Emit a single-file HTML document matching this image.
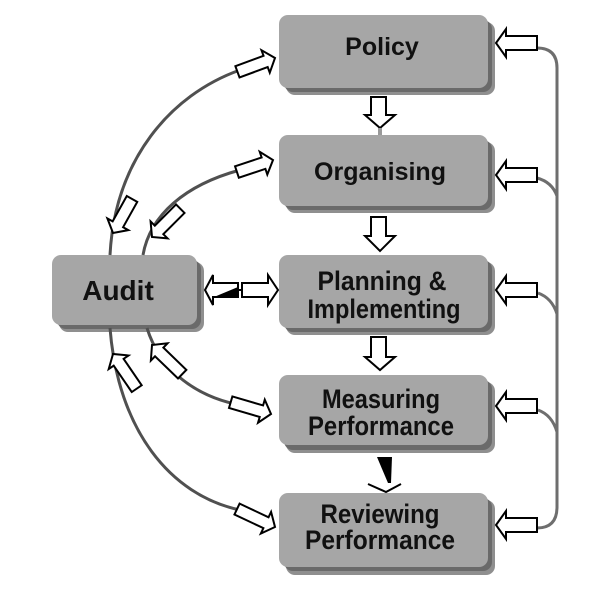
<!DOCTYPE html>
<html>
<head>
<meta charset="utf-8">
<style>
  html,body{margin:0;padding:0;background:#fff;}
  svg{display:block;}
  text{font-family:"Liberation Sans", Arial, sans-serif; fill:#111; font-weight:bold;}
</style>
</head>
<body>
<svg width="600" height="599" viewBox="0 0 600 599" xmlns="http://www.w3.org/2000/svg">
  <!-- Boxes: shadows -->
  <g>
    <!-- Policy -->
    <rect x="286" y="22" width="209" height="73" rx="9" fill="#8f8f8f"/>
    <rect x="284" y="20" width="208" height="72" rx="9" fill="#6a6a6a"/>
    <rect x="279" y="15" width="209" height="73" rx="9" fill="#a6a6a6"/>
    <!-- Organising -->
    <rect x="286" y="142" width="209" height="71" rx="9" fill="#8f8f8f"/>
    <rect x="284" y="140" width="208" height="70" rx="9" fill="#6a6a6a"/>
    <rect x="279" y="135" width="209" height="71" rx="9" fill="#a6a6a6"/>
    <!-- Planning -->
    <rect x="286" y="262" width="209" height="73" rx="9" fill="#8f8f8f"/>
    <rect x="284" y="260" width="208" height="72" rx="9" fill="#6a6a6a"/>
    <rect x="279" y="255" width="209" height="73" rx="9" fill="#a6a6a6"/>
    <!-- Measuring -->
    <rect x="286" y="382" width="209" height="71" rx="9" fill="#8f8f8f"/>
    <rect x="284" y="380" width="208" height="70" rx="9" fill="#6a6a6a"/>
    <rect x="279" y="375" width="209" height="70" rx="9" fill="#a6a6a6"/>
    <!-- Reviewing -->
    <rect x="286" y="500" width="209" height="75" rx="9" fill="#8f8f8f"/>
    <rect x="284" y="498" width="208" height="73" rx="9" fill="#6a6a6a"/>
    <rect x="279" y="493" width="209" height="74" rx="9" fill="#a6a6a6"/>
    <!-- Audit -->
    <rect x="59" y="262" width="145" height="70" rx="9" fill="#8f8f8f"/>
    <rect x="57" y="260" width="144" height="69" rx="9" fill="#6a6a6a"/>
    <rect x="52" y="255" width="145" height="70" rx="9" fill="#a6a6a6"/>
  </g>

  <!-- Labels -->
  <text x="382" y="55" font-size="25" text-anchor="middle">Policy</text>
  <text x="380" y="180" font-size="25" text-anchor="middle">Organising</text>
  <text x="382" y="290" font-size="27" text-anchor="middle" textLength="129" lengthAdjust="spacingAndGlyphs">Planning &amp;</text>
  <text x="384" y="318" font-size="27" text-anchor="middle" textLength="153" lengthAdjust="spacingAndGlyphs">Implementing</text>
  <text x="381" y="408" font-size="27" text-anchor="middle" textLength="118" lengthAdjust="spacingAndGlyphs">Measuring</text>
  <text x="381" y="435" font-size="27" text-anchor="middle" textLength="146" lengthAdjust="spacingAndGlyphs">Performance</text>
  <text x="380" y="523" font-size="27" text-anchor="middle" textLength="119" lengthAdjust="spacingAndGlyphs">Reviewing</text>
  <text x="380" y="549" font-size="27" text-anchor="middle" textLength="150" lengthAdjust="spacingAndGlyphs">Performance</text>
  <text x="118" y="300" font-size="28" text-anchor="middle">Audit</text>

  <!-- Left arcs -->
  <g fill="none" stroke="#505050" stroke-width="3">
    <path d="M110,255 C115,160 170,95 240,70"/>
    <path d="M143,255 C150,215 185,185 240,170"/>
    <path d="M147,328 C160,370 195,395 235,404"/>
    <path d="M110,328 C118,430 170,495 240,510"/>
  </g>

  <!-- Arc arrows (hollow) -->
  <g fill="#fff" stroke="#000" stroke-width="2" stroke-linejoin="miter">
    <g transform="translate(275,58) rotate(-20.2)"><polygon points="-40,-6 -10,-6 -10,-12 0,0 -10,12 -10,6 -40,6"/></g>
    <g transform="translate(273,160) rotate(-18.4)"><polygon points="-38,-6 -10,-6 -10,-12 0,0 -10,12 -10,6 -38,6"/></g>
    <g transform="translate(113,233) rotate(119.2)"><polygon points="-39,-6 -10,-6 -10,-12 0,0 -10,12 -10,6 -39,6"/></g>
    <g transform="translate(152,237) rotate(135)"><polygon points="-40,-6 -10,-6 -10,-12 0,0 -10,12 -10,6 -40,6"/></g>
    <g transform="translate(271,414) rotate(16.3)"><polygon points="-42,-6 -10,-6 -10,-12 0,0 -10,12 -10,6 -42,6"/></g>
    <g transform="translate(152,345) rotate(-136)"><polygon points="-42,-6 -10,-6 -10,-12 0,0 -10,12 -10,6 -42,6"/></g>
    <g transform="translate(113,354) rotate(-124.4)"><polygon points="-42,-6 -10,-6 -10,-12 0,0 -10,12 -10,6 -42,6"/></g>
    <g transform="translate(275,527) rotate(25.3)"><polygon points="-42,-6 -10,-6 -10,-12 0,0 -10,12 -10,6 -42,6"/></g>
  </g>

  <!-- Double arrow Audit <-> Planning -->
  <g stroke="#000" stroke-width="2" fill="#fff">
    <polygon points="205,290 213,275 213,283 238,283 238,297 213,297 213,305"/>
    <polygon points="242,283 268,283 268,275 278,290 268,305 268,297 242,297"/>
    <line x1="238" y1="290" x2="242" y2="290"/>
  </g>
  <polygon points="214,297 238,297 238,287" fill="#000"/>

  <!-- Down arrows between boxes -->
  <g fill="#fff" stroke="#000" stroke-width="2">
    <polygon points="371,97 386,97 386,115 395,115 380,128 365,115 371,115"/>
    <polygon points="371,217 386,217 386,236 395,236 380,251 365,236 371,236"/>
    <polygon points="371,337 386,337 386,357 395,357 380,370 365,357 371,357"/>
  </g>
  <line x1="380" y1="128" x2="380" y2="135" stroke="#999" stroke-width="4"/>
  <!-- Measuring -> Reviewing -->
  <polygon points="377,457 392,457 391,483 388,483" fill="#000"/>
  <polyline points="368,484 386,492 401,484" fill="none" stroke="#000" stroke-width="2"/>

  <!-- Right feedback line -->
  <g fill="none" stroke="#6e6e6e" stroke-width="3">
    <path d="M537,48 Q557,48 557,68 L557,507 Q557,528 537,528"/>
    <path d="M537,178 Q552,182 557,196"/>
    <path d="M538,293 Q552,298 557,314"/>
    <path d="M538,410 Q552,415 557,432"/>
  </g>

  <!-- Right arrows into boxes -->
  <g fill="#fff" stroke="#000" stroke-width="2">
    <polygon points="496,43 506,29 506,36 537,36 537,50 506,50 506,57"/>
    <polygon points="496,175 506,161 506,168 537,168 537,182 506,182 506,189"/>
    <polygon points="496,290 506,276 506,283 537,283 537,297 506,297 506,304"/>
    <polygon points="496,406 506,392 506,399 537,399 537,413 506,413 506,420"/>
    <polygon points="496,525 506,511 506,518 537,518 537,532 506,532 506,539"/>
  </g>
</svg>
</body>
</html>
